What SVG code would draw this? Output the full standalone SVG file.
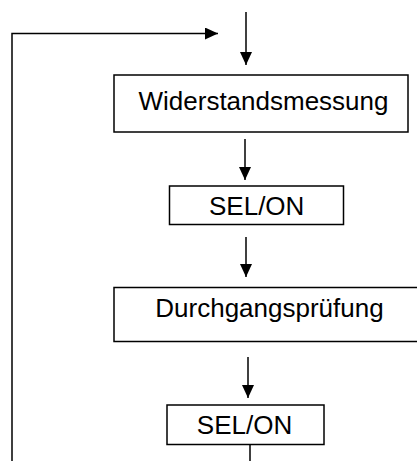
<svg xmlns="http://www.w3.org/2000/svg" width="417" height="461" viewBox="0 0 417 461">
  <style>
    .box { fill: #ffffff; stroke: #000000; stroke-width: 1.5; }
    .lbl { font-family: "Liberation Sans", Arial, sans-serif; font-size: 26px; fill: #000000; text-anchor: middle; }
    .wire { fill: none; stroke: #000000; stroke-width: 1.5; }
  </style>
  <defs>
    <marker id="arrow" markerUnits="userSpaceOnUse" markerWidth="14" markerHeight="13" refX="13" refY="6" orient="auto">
      <path d="M0,0 L13,6 L0,12 Z" fill="#000000"/>
    </marker>
  </defs>

  <rect width="417" height="461" fill="#ffffff"/>

  <g id="connectors">
    <line class="wire" x1="246" y1="12" x2="246" y2="65" marker-end="url(#arrow)"/>
    <line class="wire" x1="245" y1="139" x2="245" y2="180" marker-end="url(#arrow)"/>
    <line class="wire" x1="246" y1="237" x2="246" y2="277" marker-end="url(#arrow)"/>
    <line class="wire" x1="248" y1="357" x2="248" y2="398" marker-end="url(#arrow)"/>
    <line class="wire" x1="250" y1="444" x2="250" y2="462"/>
    <polyline class="wire" points="12,462 12,33.5 218,33.5" marker-end="url(#arrow)"/>
  </g>

  <g id="widerstandsmessung">
    <rect class="box" x="114" y="75" width="294" height="57"/>
    <text class="lbl" x="263.5" y="110">Widerstandsmessung</text>
  </g>

  <g id="sel-on-1">
    <rect class="box" x="169.5" y="186" width="174" height="38.5"/>
    <text class="lbl" x="256.7" y="215">SEL/ON</text>
  </g>

  <g id="durchgangspruefung">
    <rect class="box" x="114" y="287.5" width="310" height="54"/>
    <text class="lbl" x="269.5" y="316.7">Durchgangsprüfung</text>
  </g>

  <g id="sel-on-2">
    <rect class="box" x="167" y="405" width="157" height="39.5"/>
    <text class="lbl" x="244.5" y="434.3">SEL/ON</text>
  </g>
</svg>
